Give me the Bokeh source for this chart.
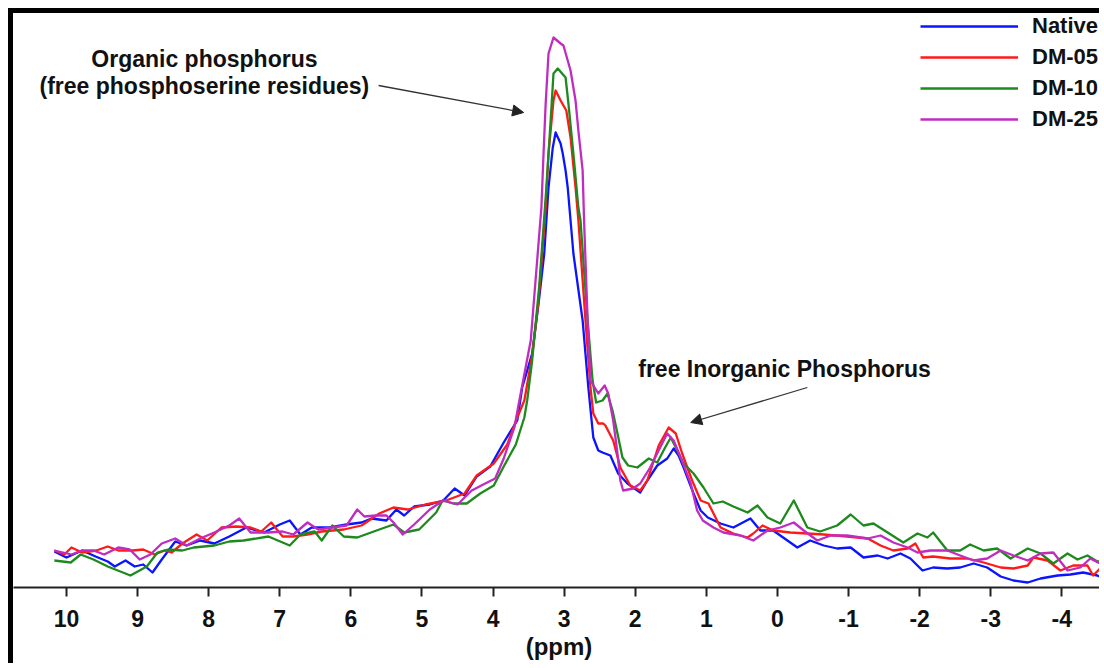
from bokeh.plotting import figure
from bokeh.models import Range1d, FixedTicker, Label, Arrow, NormalHead, Legend, LegendItem
from bokeh.embed import file_html
from bokeh.resources import INLINE

# ---- data (chemical shift in ppm, intensity in arbitrary units) ----
native_ppm = [10.17, 10.00, 9.78, 9.59, 9.42, 9.32, 9.17, 9.04, 8.92, 8.79, 8.66, 8.47, 8.31, 8.12, 7.92,
              7.71, 7.47, 7.22, 7.00, 6.86, 6.71, 6.55, 6.30, 6.06, 5.85, 5.71, 5.50, 5.36, 5.25, 5.11,
              4.89, 4.70, 4.54, 4.40, 4.23, 4.04, 3.85, 3.66, 3.59, 3.45, 3.36, 3.28, 3.22, 3.16, 3.12,
              3.05, 3.02, 2.98, 2.95, 2.87, 2.74, 2.66, 2.59, 2.52, 2.46, 2.35, 2.24, 2.11, 1.93, 1.83,
              1.69, 1.55, 1.46, 1.39, 1.32, 1.18, 1.08, 0.98, 0.80, 0.62, 0.38, 0.24, 0.06, -0.08, -0.28,
              -0.46, -0.65, -0.84, -1.03, -1.21, -1.41, -1.55, -1.73, -1.87, -2.04, -2.19, -2.39, -2.57,
              -2.76, -2.95, -3.14, -3.32, -3.52, -3.70, -3.94, -4.12, -4.30, -4.50, -4.60]
native_int = [6.8, 5.6, 7.0, 5.8, 4.8, 3.8, 5.0, 3.8, 4.2, 2.6, 5.2, 8.8, 8.0, 9.0, 8.4,
              9.8, 11.6, 10.6, 12.2, 13.0, 10.2, 11.6, 11.6, 12.2, 12.6, 13.4, 13.0, 15.2, 14.0, 15.8,
              16.2, 17.0, 19.4, 18.0, 21.8, 23.8, 28.6, 33.0, 39.6, 46.4, 56.4, 66.4, 79.6, 87.6, 90.6,
              88.4, 86.4, 83.0, 79.6, 66.4, 53.0, 39.6, 29.6, 27.0, 26.6, 26.0, 22.4, 20.4, 18.6, 21.0,
              24.0, 25.4, 27.4, 26.0, 23.6, 18.4, 15.0, 13.6, 12.4, 11.6, 13.4, 11.0, 11.0, 9.6, 7.6,
              9.0, 8.0, 7.4, 7.6, 5.6, 6.0, 5.4, 6.4, 5.4, 3.0, 3.6, 3.4, 3.6,
              4.4, 3.6, 1.8, 1.0, 0.6, 1.4, 2.0, 2.2, 2.6, 2.0, 1.4]

dm05_ppm = [10.17, 10.03, 9.93, 9.78, 9.58, 9.42, 9.27, 9.07, 8.92, 8.76, 8.62, 8.52, 8.37, 8.17, 8.02,
            7.82, 7.61, 7.41, 7.26, 7.12, 6.96, 6.81, 6.61, 6.41, 6.10, 5.85, 5.60, 5.40, 5.20, 4.95,
            4.66, 4.40, 4.23, 3.99, 3.80, 3.66, 3.56, 3.45, 3.36, 3.26, 3.22, 3.15, 3.12, 3.05, 2.97, 2.91,
            2.84, 2.80, 2.70, 2.63, 2.59, 2.52, 2.45, 2.42, 2.31, 2.21, 2.07, 1.93, 1.83, 1.67, 1.53,
            1.43, 1.34, 1.20, 1.08, 0.97, 0.80, 0.62, 0.42, 0.34, 0.21, 0.06, -0.18, -0.42, -0.65, -0.98,
            -1.27, -1.45, -1.63, -1.83, -1.94, -2.05, -2.19, -2.43, -2.67, -2.90, -3.14, -3.32, -3.52,
            -3.60, -3.80, -3.98, -4.16, -4.36, -4.44, -4.58]
dm05_int = [7.0, 6.2, 7.6, 6.6, 7.0, 7.8, 7.0, 7.0, 7.2, 6.2, 7.0, 6.6, 8.4, 10.2, 9.0,
            11.6, 11.8, 11.6, 10.8, 12.6, 9.8, 9.8, 10.2, 10.8, 11.2, 12.0, 14.4, 15.6, 15.2, 16.2,
            17.0, 18.4, 22.0, 24.4, 28.2, 33.6, 37.0, 46.0, 57.0, 75.6, 86.4, 97.0, 99.0, 97.0, 95.0, 89.6,
            79.6, 73.0, 53.0, 39.6, 34.4, 32.4, 32.4, 32.0, 29.0, 23.6, 20.0, 19.0, 21.0, 28.0, 31.6,
            30.4, 26.4, 21.0, 17.0, 16.4, 11.6, 10.4, 9.6, 10.4, 12.0, 11.0, 10.6, 10.4, 10.2, 9.8,
            9.4, 8.0, 7.0, 7.4, 8.4, 5.6, 5.8, 5.4, 5.4, 4.6, 3.6, 3.4, 4.0,
            5.6, 5.0, 3.0, 4.0, 4.0, 2.0, 4.0]

dm10_ppm = [10.17, 9.94, 9.80, 9.62, 9.42, 9.10, 8.87, 8.72, 8.57, 8.37, 8.21, 7.92, 7.71, 7.51, 7.16,
            6.86, 6.71, 6.51, 6.41, 6.26, 6.10, 5.91, 5.60, 5.40, 5.25, 5.04, 4.80, 4.71, 4.56, 4.37,
            4.18, 3.99, 3.85, 3.68, 3.56, 3.52, 3.45, 3.35, 3.25, 3.19, 3.15, 3.09, 2.98, 2.94, 2.87,
            2.80, 2.77, 2.67, 2.60, 2.55, 2.46, 2.39, 2.32, 2.25, 2.18, 2.10, 1.97, 1.81, 1.69, 1.58,
            1.50, 1.43, 1.32, 1.18, 1.04, 0.90, 0.77, 0.62, 0.42, 0.28, 0.14, -0.04, -0.23, -0.42, -0.60,
            -0.84, -1.03, -1.21, -1.35, -1.55, -1.77, -1.97, -2.11, -2.19, -2.39, -2.57, -2.71, -2.90,
            -3.09, -3.28, -3.52, -3.70, -3.88, -4.08, -4.22, -4.36, -4.50, -4.60]
dm10_int = [5.0, 4.6, 6.2, 5.2, 3.8, 2.0, 3.8, 6.6, 7.2, 7.0, 7.6, 8.0, 8.8, 9.0, 9.8,
            8.0, 10.2, 10.8, 9.0, 12.0, 9.8, 9.6, 11.2, 12.2, 10.6, 11.2, 14.6, 17.0, 16.4, 16.4,
            18.4, 20.0, 23.8, 28.2, 33.6, 37.0, 45.0, 60.0, 79.6, 93.0, 102.4, 103.4, 101.6, 96.4, 86.4,
            75.6, 73.0, 53.0, 41.0, 36.6, 37.0, 38.4, 35.0, 30.4, 25.6, 24.0, 23.6, 25.4, 24.6, 27.6,
            29.6, 27.6, 24.4, 22.4, 19.6, 16.4, 16.8, 15.8, 14.6, 16.0, 13.6, 12.4, 17.0, 11.6, 10.8,
            12.0, 14.2, 12.0, 12.4, 10.6, 8.6, 10.4, 9.6, 10.6, 7.0, 7.0, 8.2, 7.0,
            7.4, 5.4, 7.4, 6.4, 4.4, 6.4, 5.2, 6.0, 4.8, 4.8]

dm25_ppm = [10.17, 9.93, 9.78, 9.62, 9.47, 9.27, 9.11, 8.97, 8.82, 8.66, 8.47, 8.31, 8.12, 7.92, 7.71,
            7.57, 7.41, 7.16, 6.96, 6.81, 6.61, 6.46, 6.26, 6.06, 5.91, 5.81, 5.65, 5.50, 5.40, 5.27,
            5.11, 4.89, 4.70, 4.50, 4.30, 4.11, 3.97, 3.85, 3.70, 3.63, 3.47, 3.32, 3.29, 3.26, 3.22,
            3.15, 3.05, 3.01, 2.91, 2.84, 2.80, 2.74, 2.72, 2.67, 2.63, 2.52, 2.43, 2.38, 2.31, 2.25,
            2.21, 2.17, 2.03, 1.93, 1.79, 1.65, 1.55, 1.46, 1.36, 1.22, 1.13, 1.05, 0.90, 0.76, 0.52,
            0.34, 0.14, -0.04, -0.23, -0.37, -0.56, -0.75, -0.98, -1.27, -1.45, -1.63, -1.83, -1.97,
            -2.15, -2.39, -2.57, -2.76, -2.95, -3.14, -3.32, -3.52, -3.70, -3.88, -4.08, -4.26, -4.40,
            -4.54, -4.60]
dm25_int = [7.0, 6.2, 7.0, 7.0, 6.2, 7.6, 7.2, 5.2, 6.2, 8.4, 9.4, 8.0, 9.4, 10.6, 12.0,
            13.4, 10.6, 10.6, 10.8, 10.2, 12.6, 11.2, 11.6, 12.0, 15.2, 13.8, 14.0, 14.0, 12.6, 10.2,
            12.2, 15.2, 17.0, 16.2, 19.0, 20.4, 21.4, 25.4, 31.6, 37.0, 49.0, 75.6, 86.4, 96.4, 106.4,
            109.6, 108.4, 108.0, 103.0, 97.0, 91.0, 83.0, 73.0, 53.0, 41.0, 38.4, 40.0, 38.4, 33.0, 26.4,
            21.0, 19.0, 19.4, 20.4, 23.6, 27.6, 30.4, 29.0, 25.6, 20.4, 15.0, 13.0, 11.6, 10.6, 10.0,
            9.0, 11.0, 11.6, 12.6, 11.0, 9.0, 10.0, 10.0, 9.4, 10.0, 8.6, 7.6, 6.6,
            7.0, 7.0, 6.0, 5.0, 5.4, 7.0, 6.0, 5.0, 6.4, 6.6, 3.0, 3.6, 5.4,
            4.4, 4.8]

series_names = ["Native", "DM-05", "DM-10", "DM-25"]
series_colors = ["#0a14ff", "#ff1a1a", "#1e8a1e", "#c02cc0"]
tick_values = [10, 9, 8, 7, 6, 5, 4, 3, 2, 1, 0, -1, -2, -3, -4]

FONT = "Liberation Sans"

p = figure(width=1091, height=655, output_backend="svg", toolbar_location=None,
           x_range=Range1d(10.745, -4.60), y_range=Range1d(-0.4, 114.4),
           y_axis_location=None, min_border_left=0, min_border_right=0,
           min_border_top=0, min_border_bottom=81)
p.styles = {"margin-left": "8px", "margin-top": "8px",
            "border-left": "5px solid #000", "border-top": "5px solid #000"}
p.grid.visible = False
p.outline_line_color = None
p.background_fill_color = "white"
p.border_fill_color = "white"

ax = p.xaxis[0]
ax.ticker = FixedTicker(ticks=tick_values)
ax.major_label_overrides = {t: str(t) for t in tick_values}
ax.axis_line_width = 2
ax.axis_line_color = "#222222"
ax.major_tick_line_width = 2
ax.major_tick_line_color = "#222222"
ax.major_tick_in = 0
ax.major_tick_out = 9
ax.minor_tick_line_color = None
ax.major_label_text_font = FONT
ax.major_label_text_font_style = "bold"
ax.major_label_text_font_size = "23px"
ax.major_label_text_color = "#111111"
ax.major_label_standoff = 13
ax.axis_label = "(ppm)"
ax.axis_label_text_font = FONT
ax.axis_label_text_font_style = "bold"
ax.axis_label_text_font_size = "24px"
ax.axis_label_text_color = "#111111"
ax.axis_label_standoff = 3

data = [(native_ppm, native_int), (dm05_ppm, dm05_int), (dm10_ppm, dm10_int), (dm25_ppm, dm25_int)]
renderers = []
for (xs, ys), c in zip(data, series_colors):
    r = p.line(xs, ys, line_color=c, line_width=2.3, line_join="round")
    renderers.append(r)

legend = Legend(items=[LegendItem(label=n, renderers=[r]) for n, r in zip(series_names, renderers)],
                location="top_right", margin=0, padding=0, spacing=5,
                glyph_width=98, glyph_height=22, label_standoff=14, label_width=72,
                label_text_font=FONT, label_text_font_style="bold",
                label_text_font_size="22px", label_text_color="#111111",
                border_line_color=None, background_fill_alpha=0)
p.add_layout(legend)

txt = dict(text_font=FONT, text_font_style="bold", text_font_size="23px",
           text_color="#111111", text_align="center", text_baseline="middle")
p.add_layout(Label(x=8.06, y=105.4, text="Organic phosphorus", **txt))
p.add_layout(Label(x=8.06, y=100.0, text="(free phosphoserine residues)", **txt))
p.add_layout(Label(x=-0.10, y=43.4, text="free Inorganic Phosphorus", **txt))

head = dict(size=11, fill_color="#222222", line_color="#222222")
p.add_layout(Arrow(x_start=5.61, y_start=100.0, x_end=3.57, y_end=94.6,
                   line_color="#333333", line_width=1.3, end=NormalHead(**head)))
p.add_layout(Arrow(x_start=-0.42, y_start=39.6, x_end=1.22, y_end=32.6,
                   line_color="#333333", line_width=1.3, end=NormalHead(**head)))

open("out.html", "w").write(file_html(p, INLINE))
